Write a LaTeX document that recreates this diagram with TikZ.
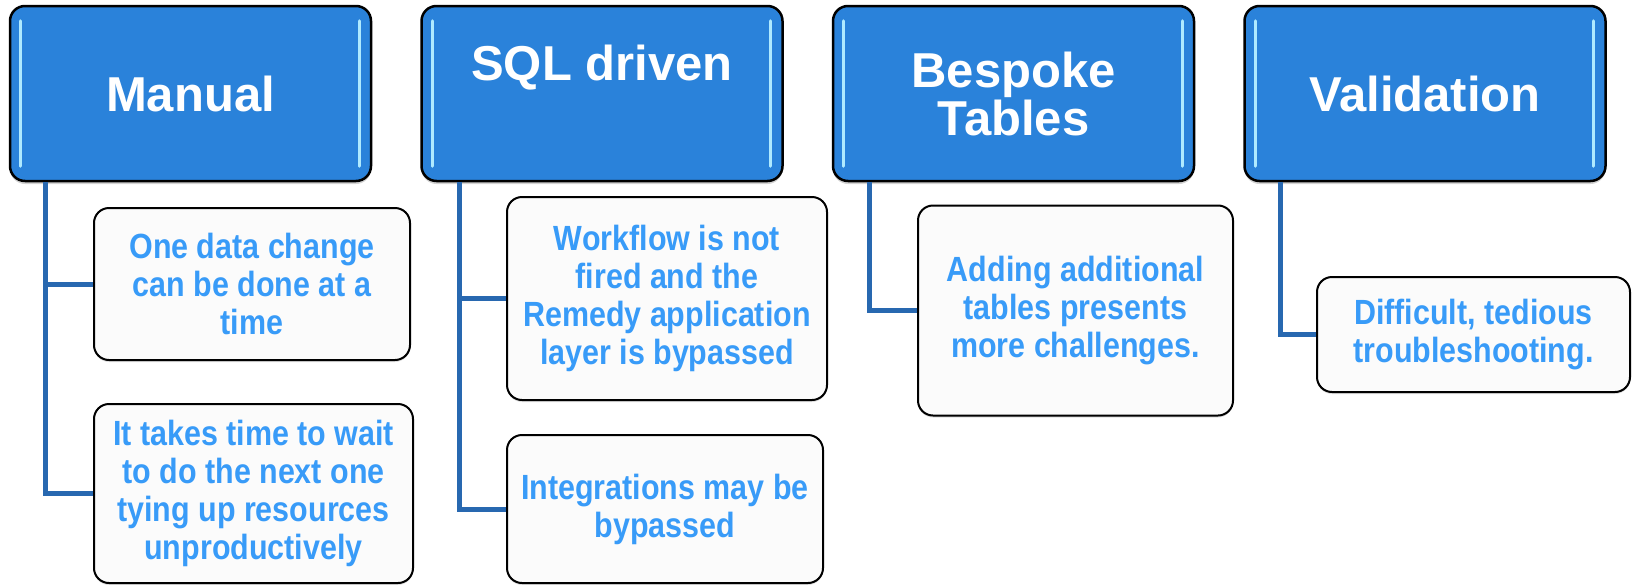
\documentclass[tikz,border=0pt]{standalone}
\usepackage{fontspec}
\setmainfont{Liberation Sans}
\newfontfamily\narrowsans{Liberation Sans}[FakeStretch=0.87]
\usetikzlibrary{positioning,calc,shadows}

\definecolor{headblue}{RGB}{42,130,218}
\definecolor{textblue}{RGB}{56,155,248}
\definecolor{linkblue}{RGB}{40,104,176}
\definecolor{glossblue}{RGB}{175,234,255}

\tikzset{
  head/.style={rectangle, rounded corners=15pt, draw=black, line width=2.5pt,
               fill=headblue, text=white, align=center, inner sep=0pt,
               minimum width=361pt, minimum height=175pt,
               font=\fontsize{49}{48}\selectfont\bfseries,
               drop shadow={shadow xshift=0pt, shadow yshift=-3pt, opacity=0.35}},
  item/.style={rectangle, rounded corners=15pt, draw=black, line width=2pt,
               fill=black!1.5, text=textblue, align=center, inner sep=0pt,
               font=\narrowsans\bfseries\fontsize{35}{38}\selectfont,
               drop shadow={shadow xshift=0pt, shadow yshift=-2pt, opacity=0.25}},
  link/.style={draw=linkblue, line width=5pt},
  gloss/.style={draw=glossblue, line width=3pt, line cap=round}
}

\begin{document}
\begin{tikzpicture}[x=1pt, y=-1pt, node distance=411.5pt, on grid]
\useasboundingbox (0,0) rectangle (1633,584);

% top row
\node[head] (manual)                     at (190.5,93.5) {Manual};
\node[head] (sql)     [right=of manual]  {SQL driven\\\strut};
\node[head] (bespoke) [right=of sql]     {Bespoke\\Tables};
\node[head] (valid)   [right=of bespoke] {Validation};

% gloss on the top boxes
\foreach \n in {manual,sql,bespoke,valid} {
  \draw[gloss] ($(\n.north west)+(12,16)$) -- ($(\n.south west)+(12,-16)$);
  \draw[gloss] ($(\n.north east)+(-13,16)$) -- ($(\n.south east)+(-13,-16)$);
}

% details
\node[item, minimum width=316pt, minimum height=152pt] (man1) at (252,284)
  {One data change\\can be done at a\\time};
\node[item, minimum width=319pt, minimum height=179pt] (man2) at (253.5,493.5)
  {It takes time to wait\\to do the next one\\tying up resources\\unproductively};
\node[item, minimum width=320pt, minimum height=203pt] (sql1) at (667,298.5)
  {Workflow is not\\fired and the\\Remedy application\\layer is bypassed};
\node[item, minimum width=316pt, minimum height=148pt] (sql2) at (665,509)
  {Integrations may be\\bypassed};
\node[item, minimum width=315pt, minimum height=210pt] (bes1) at (1075.5,310.5)
  {Adding additional\\tables presents\\more challenges.};
\node[item, minimum width=313pt, minimum height=115pt] (val1) at (1473.5,334.5)
  {Difficult, tedious\\troubleshooting.};

% connectors
\draw[link] ($(manual.south west)+(37,0)$) |- (man1.west);
\draw[link] ($(manual.south west)+(37,0)$) |- (man2.west);
\draw[link] ($(sql.south west)+(39,0)$)    |- (sql1.west);
\draw[link] ($(sql.south west)+(39,0)$)    |- (sql2.west);
\draw[link] ($(bespoke.south west)+(38,0)$) |- (bes1.west);
\draw[link] ($(valid.south west)+(37,0)$)  |- (val1.west);

\end{tikzpicture}
\end{document}
